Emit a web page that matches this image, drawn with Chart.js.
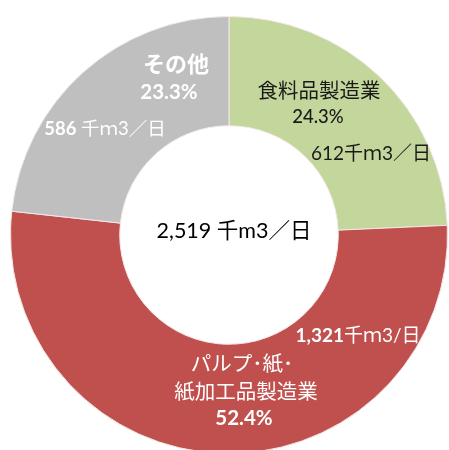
<!DOCTYPE html>
<html lang="ja">
<head>
  <meta charset="UTF-8" />
  <title>用水量</title>
  <script src="https://cdn.jsdelivr.net/npm/chart.js"></script>
  <style>
    body {
      margin: 0;
      padding: 0;
      background: #fff;
      overflow: hidden;
    }
    canvas {
      position: absolute;
      left: 0;
      top: 0;
    }
  </style>
</head>
<body>
  <canvas id="grafico" width="449" height="460"></canvas>

  <script>
    const categorias = ["食料品製造業", "パルプ・紙・紙加工品製造業", "その他"];
    const valores = [612, 1321, 586];
    const colores = ["#C3D69B", "#C0504D", "#BFBFBF"];
    const unidad = "千ｍ3／日";

    const FUENTE = 'Lato, "Noto Sans CJK JP", sans-serif';
    const total = valores.reduce((a, b) => a + b, 0);
    const pct = v => (v / total * 100).toFixed(1) + "%";
    const miles = v => v.toLocaleString("en-US");

    // dibuja una línea hecha de trozos [texto, peso] centrada en x
    function linea(ctx, trozos, x, y, size, color) {
      ctx.fillStyle = color;
      let ancho = 0;
      trozos.forEach(t => {
        ctx.font = (t[1] || "normal") + " " + size + "px " + FUENTE;
        t.w = ctx.measureText(t[0]).width;
        ancho += t.w;
      });
      let cx = x - ancho / 2;
      trozos.forEach(t => {
        ctx.font = (t[1] || "normal") + " " + size + "px " + FUENTE;
        ctx.fillText(t[0], cx, y);
        cx += t.w;
      });
    }

    const etiquetas = {
      id: "etiquetas",
      afterDraw(chart) {
        const ctx = chart.ctx;
        const arc = chart.getDatasetMeta(0).data[0];
        const x0 = arc.x, y0 = arc.y;
        ctx.save();
        ctx.textAlign = "left";
        ctx.textBaseline = "middle";

        // total en el centro
        linea(ctx, [[miles(total) + " 千m3／日"]], x0 + 5, y0 - 4, 21.5, "#000");

        // 食料品製造業
        linea(ctx, [[categorias[0]]], x0 + 90, y0 - 144, 20.5, "#1a1a1a");
        linea(ctx, [[pct(valores[0]), "500"]], x0 + 89, y0 - 118, 18.5, "#1a1a1a");
        linea(ctx, [[valores[0] + unidad]], x0 + 142, y0 - 81, 19, "#1a1a1a");

        // パルプ・紙・紙加工品製造業
        linea(ctx, [[miles(valores[1]), "bold"], ["千ｍ3/日"]], x0 + 129, y0 + 101, 19, "#fff");
        linea(ctx, [["パルプ･紙･"]], x0 + 13, y0 + 129, 20.5, "#fff");
        linea(ctx, [["紙加工品製造業"]], x0 + 17, y0 + 157, 20.5, "#fff");
        linea(ctx, [[pct(valores[1]), "bold"]], x0 + 15, y0 + 183, 20.5, "#fff");

        // その他
        linea(ctx, [[categorias[2], "bold"]], x0 - 53, y0 - 170, 22, "#fff");
        linea(ctx, [[pct(valores[2]), "bold"]], x0 - 60, y0 - 143, 20.5, "#fff");
        linea(ctx, [[valores[2] + " ", "bold"], [unidad]], x0 - 124, y0 - 106, 18.5, "#fff");

        ctx.restore();
      }
    };

    new Chart(document.getElementById("grafico"), {
      type: "doughnut",
      data: {
        labels: categorias,
        datasets: [{
          data: valores,
          backgroundColor: colores,
          borderColor: "#f4e8e8",
          borderWidth: 1
        }]
      },
      options: {
        responsive: false,
        animation: false,
        cutout: "50%",
        layout: {
          padding: { left: 10, top: 16, right: 1, bottom: 6 }
        },
        plugins: {
          legend: { display: false },
          tooltip: { enabled: false }
        }
      },
      plugins: [etiquetas]
    });
  </script>
</body>
</html>
